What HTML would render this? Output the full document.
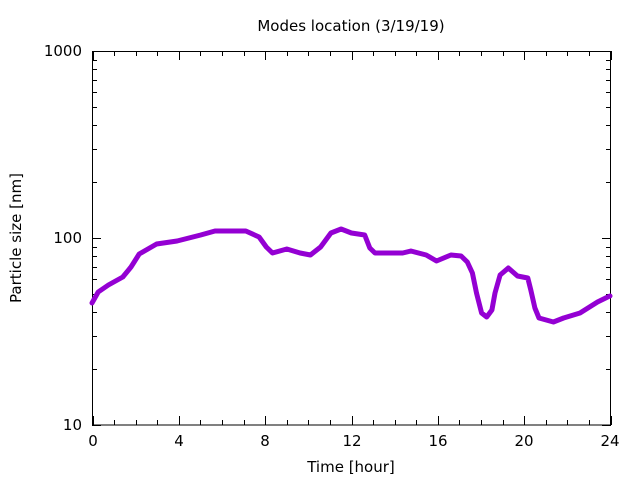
<!DOCTYPE html>
<html><head><meta charset="utf-8"><style>
html,body{margin:0;padding:0;background:#fff;}
svg{display:block;font-family:"DejaVu Sans","Liberation Sans",sans-serif;}
</style></head><body>
<svg id="s" width="640" height="480" viewBox="0 0 640 480" xmlns="http://www.w3.org/2000/svg">
<rect width="640" height="480" fill="#fff"/>
<text x="351" y="31" font-size="15" text-anchor="middle">Modes location (3/19/19)</text>
<text x="351" y="472" font-size="15" text-anchor="middle">Time [hour]</text>
<text transform="translate(21,238) rotate(-90)" font-size="15" text-anchor="middle">Particle size [nm]</text>
<g font-size="15" text-anchor="end">
<text x="82" y="56">1000</text>
<text x="82" y="243">100</text>
<text x="82" y="430">10</text>
</g>
<g font-size="15" text-anchor="middle">
<text x="93" y="446">0</text><text x="179" y="446">4</text><text x="265" y="446">8</text>
<text x="352" y="446">12</text><text x="438" y="446">16</text><text x="524" y="446">20</text><text x="610" y="446">24</text>
</g>
<g id="ticks" stroke="#000" stroke-width="1"></g>
<rect x="92.5" y="51.5" width="518" height="373.5" fill="none" stroke="#000" stroke-width="1"/>
<polyline fill="none" stroke="#9400d3" stroke-width="5" stroke-linejoin="round" stroke-linecap="round"
points="92,303 98.2,292 108.4,285 122.8,277 131,267 139.2,254 156.6,244 177.1,241 200.7,235 215,231 245.8,231 259.1,237 266.3,247 272.5,253 286.8,249 300.1,253 310.4,255 320.6,247 330.9,233 341.1,229 351.4,233 364.7,235 369.8,248 375,253 402.7,253 410.9,251 426.2,255 436.5,261 450.9,255 461.1,256 467.3,262 472.4,273 476.5,293 481.6,313 486.7,317 491.9,310 495,293 500.1,275 508.3,268 517.5,276 527.8,278 530.8,290 534.9,308 539,318 553.4,322 563.6,318 580,313 597.5,302 607.7,297 610,296"/>
</svg>
<script>
var g=document.getElementById('ticks'),d='';
function L(x1,y1,x2,y2){d+='<line x1="'+x1+'" y1="'+y1+'" x2="'+x2+'" y2="'+y2+'"/>';}
for(var h=0;h<=24;h++){var x=92.5+h*518/24;x=Math.round(x)+0.5;var len=(h%4==0)?9:5;L(x,425,x,425-len);L(x,51,x,51+len);}
for(var dec=1;dec<=3;dec++){for(var m=1;m<=9;m++){if(dec==3&&m>1)break;var v=Math.pow(10,dec)*m;var y=425-187*Math.log10(v/10);y=Math.round(y)+0.5;var len=(m==1)?9:5;L(92,y,92+len,y);L(611,y,611-len,y);}}
g.innerHTML=d;
</script>
</body></html>
